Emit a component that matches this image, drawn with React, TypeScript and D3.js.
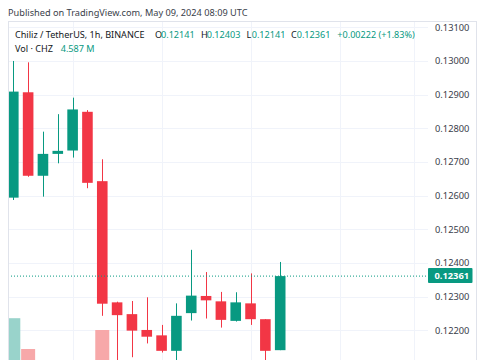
import React from "react";
import * as d3 from "d3";

const opens = [0.12594, 0.12907, 0.12659, 0.12724, 0.12734, 0.12849, 0.12643, 0.12283, 0.12248, 0.12201, 0.12185, 0.12139, 0.12251, 0.12302, 0.12286, 0.12228, 0.1228, 0.12233, 0.12141];
const highs = [0.13, 0.12996, 0.1279, 0.12842, 0.12891, 0.12854, 0.12708, 0.12285, 0.12287, 0.12298, 0.12216, 0.1228, 0.12439, 0.12373, 0.12314, 0.12313, 0.12369, 0.12233, 0.12403];
const lows = [0.12587, 0.12656, 0.12597, 0.12696, 0.12713, 0.12622, 0.12243, 0.121, 0.1212, 0.12161, 0.12134, 0.121, 0.12229, 0.12235, 0.12208, 0.12226, 0.12216, 0.121, 0.12141];
const closes = [0.12909, 0.12659, 0.12724, 0.12733, 0.12856, 0.12638, 0.12279, 0.12245, 0.12199, 0.12181, 0.12139, 0.12243, 0.12303, 0.12289, 0.12231, 0.12283, 0.12233, 0.12139, 0.12361];
const volumesM = [16.7, 9.0, 4.2, 2.5, 3.8, 5.1, 13.75, 5.9, 4.6, 3.0, 3.3, 4.4, 5.2, 2.6, 2.9, 2.2, 3.1, 5.5, 4.587];
const priceTicks = [0.131, 0.13, 0.129, 0.128, 0.127, 0.126, 0.125, 0.124, 0.123, 0.122];
const timeGridIdx = [4, 10, 16, 22, 27];

const UP = "#089981";
const DOWN = "#f23645";
const UP_VOL = "#99d3cb";
const DOWN_VOL = "#f7a8a9";
const TEXT = "#131722";
const FONT = "'Noto Sans', 'Open Sans', sans-serif";

const W = 485;
const H = 360;
const plotL = 8;
const plotR = 428;
const plotT = 21;
const boxR = 476.5;

export default function App() {
  const x = d3.scaleLinear().domain([0, 18]).range([13.3, 280.2]);
  const y = d3.scaleLinear().domain([0.122, 0.131]).range([330.3, 27.3]);
  const yv = d3.scaleLinear().domain([0, 20]).range([385, 305]);
  const bodyW = 10.6;
  const volW = 14;
  const fmt = d3.format(".5f");
  const last = closes[closes.length - 1];
  const lastY = y(last);

  return (
    <svg width={W} height={H} style={{ position: "absolute", left: 0, top: 0, display: "block" }} fontFamily={FONT}>
      <rect x={0} y={0} width={W} height={H} fill="#ffffff" />
      <text x={8} y={16} fontSize={9.2} fill="#3a3e4a">Published on TradingView.com, May 09, 2024 08:09 UTC</text>
      <defs>
        <clipPath id="plot">
          <rect x={plotL} y={plotT} width={plotR - plotL} height={H - plotT} />
        </clipPath>
      </defs>
      <g clipPath="url(#plot)">
        {priceTicks.map((t) => (
          <line key={"h" + t} x1={plotL} x2={plotR} y1={Math.round(y(t)) + 0.5} y2={Math.round(y(t)) + 0.5} stroke="#f0f3fa" />
        ))}
        {timeGridIdx.map((i) => (
          <line key={"v" + i} x1={Math.round(x(i)) + 0.5} x2={Math.round(x(i)) + 0.5} y1={plotT} y2={H} stroke="#f0f3fa" />
        ))}
        {volumesM.map((v, i) => (
          <rect key={"vol" + i} x={x(i) - volW / 2} y={yv(v)} width={volW} height={yv(0) - yv(v)} fill={closes[i] >= opens[i] ? UP_VOL : DOWN_VOL} />
        ))}
        {opens.map((o, i) => {
          const c = closes[i];
          const col = c >= o ? UP : DOWN;
          const cx = Math.round(x(i)) + 0.5;
          const top = y(Math.max(o, c));
          const bot = y(Math.min(o, c));
          return (
            <g key={"c" + i}>
              <line x1={cx} x2={cx} y1={y(highs[i])} y2={y(lows[i])} stroke={col} strokeWidth={1} />
              <rect x={x(i) - bodyW / 2} y={top} width={bodyW} height={Math.max(1, bot - top)} fill={col} />
            </g>
          );
        })}
        <line x1={plotL} x2={plotR} y1={lastY} y2={lastY} stroke={UP} strokeWidth={1} strokeDasharray="1 2" />
      </g>
      <line x1={plotL + 0.5} x2={plotL + 0.5} y1={plotT} y2={H} stroke="#e0e3eb" />
      <line x1={plotL} x2={boxR} y1={plotT + 0.5} y2={plotT + 0.5} stroke="#e0e3eb" />
      <line x1={boxR} x2={boxR} y1={plotT} y2={H} stroke="#e0e3eb" />
      {priceTicks.map((t) => (
        <text key={"pt" + t} x={435} y={y(t) + 3.3} fontSize={9.3} fill="#3a3e4a">{fmt(t)}</text>
      ))}
      <rect x={428} y={lastY - 8} width={44.5} height={15} rx={1} fill={UP} />
      <text x={434.5} y={lastY + 3.3} fontSize={9.3} fontWeight="bold" fill="#ffffff">{fmt(last)}</text>
      <g fontSize={9.1}>
        <text x={15} y={38} fill={TEXT}>Chiliz / TetherUS, 1h, BINANCE</text>
        <text x={155} y={38} fill={TEXT}>O</text>
        <text x={161} y={38} fill={UP}>{fmt(opens[18])}</text>
        <text x={201} y={38} fill={TEXT}>H</text>
        <text x={206.7} y={38} fill={UP}>{fmt(highs[18])}</text>
        <text x={246.5} y={38} fill={TEXT}>L</text>
        <text x={251.7} y={38} fill={UP}>{fmt(lows[18])}</text>
        <text x={291} y={38} fill={TEXT}>C</text>
        <text x={296.7} y={38} fill={UP}>{fmt(closes[18])}</text>
        <text x={337.3} y={38} fill={UP}>{"+0.00222 (+1.83%)"}</text>
        <text x={15} y={51.5} fill={TEXT}>{"Vol · CHZ"}</text>
        <text x={60.7} y={51.5} fill={UP}>{"4.587 M"}</text>
      </g>
    </svg>
  );
}
